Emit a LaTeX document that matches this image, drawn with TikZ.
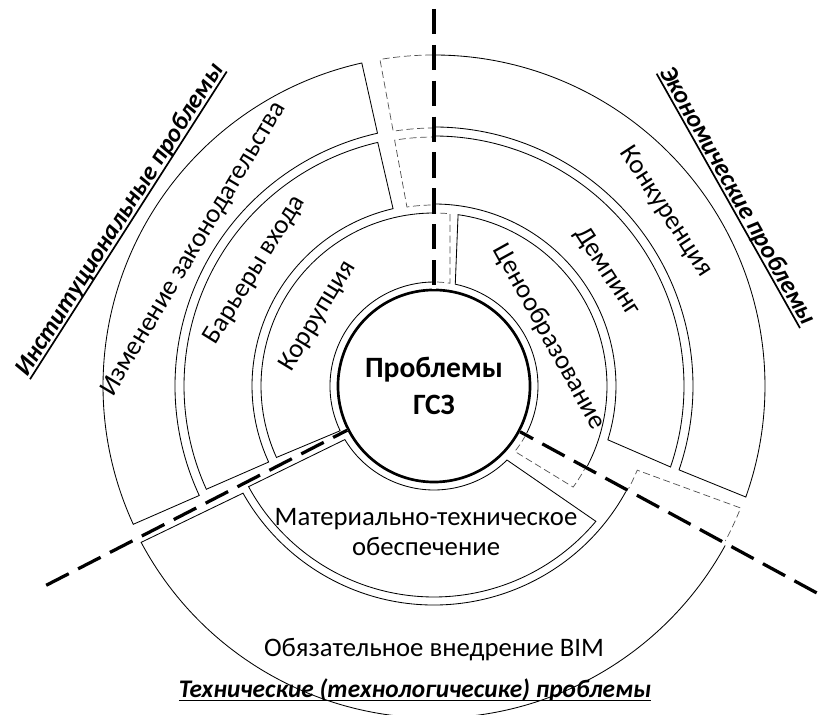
\documentclass[tikz,border=0pt]{standalone}
\usepackage{fontspec}
\setmainfont{Carlito}
\usetikzlibrary{positioning}
\definecolor{InkBlack}{RGB}{0,0,0}
\definecolor{GhostGray}{RGB}{80,80,80}

% one block of a ring: #2/#3 start angle (inner/outer), #4/#5 end angle (outer/inner), #6 inner r, #7 outer r
\newcommand{\ringpart}[7][ringline]{%
  \draw[#1] (#2:#6) -- (#3:#7) arc[start angle=#3, end angle=#4, radius=#7]
    -- (#5:#6) arc[start angle=#5, end angle=#2, radius=#6] -- cycle;}
% heavy underline for the group titles
\newcommand{\heavyline}[1]{\setbox0=\hbox{#1}\rlap{\rule[-3pt]{\wd0}{1.2pt}}\box0}

\begin{document}
\begin{tikzpicture}[x=0.025cm, y=0.025cm,
    ringline/.style={line width=0.6pt, color=InkBlack},
    ghostline/.style={line width=0.5pt, color=GhostGray, dash pattern=on 5pt off 2.6pt},
    axisline/.style={line width=2.3pt, color=InkBlack, dash pattern=on 18pt off 7.5pt},
    axismask/.style={line width=2.8pt, color=white},
    hubnode/.style={circle, draw=InkBlack, line width=1.9pt, minimum size=4.8cm, inner sep=0pt,
      align=center, font=\fontsize{21}{26}\selectfont\bfseries},
    ringlabel/.style={font=\fontsize{19}{22}\selectfont},
    grouptitle/.style={font=\fontsize{18}{22}\selectfont\bfseries\itshape}]
  \useasboundingbox (-434,-329) rectangle (388,386);

  % institutional
  \ringpart{102.6}{102.6}{204.7}{205}{259}{331}
  \ringpart{103}{103}{204.4}{204.7}{182}{250}
  \ringpart{90}{90}{204.4}{205.5}{104}{173}
  % economic
  \ringpart{90}{90}{-19.6}{-18.9}{259}{331}
  \ringpart{90}{90}{-18.9}{-17.2}{182}{250}
  \ringpart{78.2}{82}{-28.5}{-28.5}{104}{173}
  % technical
  \ringpart{209.3}{208.1}{331.5}{331.5}{219}{332}
  \ringpart{211}{208.5}{320.1}{314.6}{104}{211}
  % overlaps
  \ringpart[ghostline]{90}{90}{99.4}{99.1}{258}{331}
  \ringpart[ghostline]{90}{90}{99.1}{98.6}{181}{249}
  \ringpart[ghostline]{90}{90}{84.7}{81.2}{104}{173}
  \ringpart[ghostline]{-28.5}{-28.5}{-36}{-39}{104}{172}
  \ringpart[ghostline]{-28.5}{-28.5}{-21.7}{-22.5}{220}{330}

  \node[hubnode] (hub) at (0,0) {Проблемы\\ГСЗ};

  \coordinate (axN) at (90:377);
  \coordinate (axE) at (-28.4:435);
  \coordinate (axW) at (207.2:436);
  \foreach \a/\e in {90/axN, -28.4/axE, 207.2/axW}{
    \draw[axismask] (\e) -- (hub.\a);
    \draw[axisline] (\e) -- (hub.\a);
  }

  \node[ringlabel, rotate=59.2] (law) at (-240,137) {Изменение законодательства};
  \node[ringlabel, rotate=58.3] (entry) at (-179,116) {Барьеры входа};
  \node[ringlabel, rotate=58.7] (bribe) at (-116,70) {Коррупция};
  \node[ringlabel, rotate=-61] (pricing) at (115,49) {Ценообразование};
  \node[ringlabel, rotate=-57] (dumping) at (173,114) {Демпинг};
  \node[ringlabel, rotate=-57] (rivalry) at (232,174) {Конкуренция};
  \node[ringlabel, align=center] (supply) at (-8,-146) {Материально-техническое\\обеспечение};
  \node[ringlabel] (bim) at (0,-264) {Обязательное внедрение BIM};

  \node[grouptitle, rotate=57.4] (inst) at (-314,166) {\heavyline{Институциональные проблемы}};
  \node[grouptitle, rotate=-60.6] (econ) at (303,190) {\heavyline{Экономические проблемы}};
  \node[grouptitle] (tech) at (-19,-304) {\heavyline{Технические (технологичесике) проблемы}};
\end{tikzpicture}
\end{document}
